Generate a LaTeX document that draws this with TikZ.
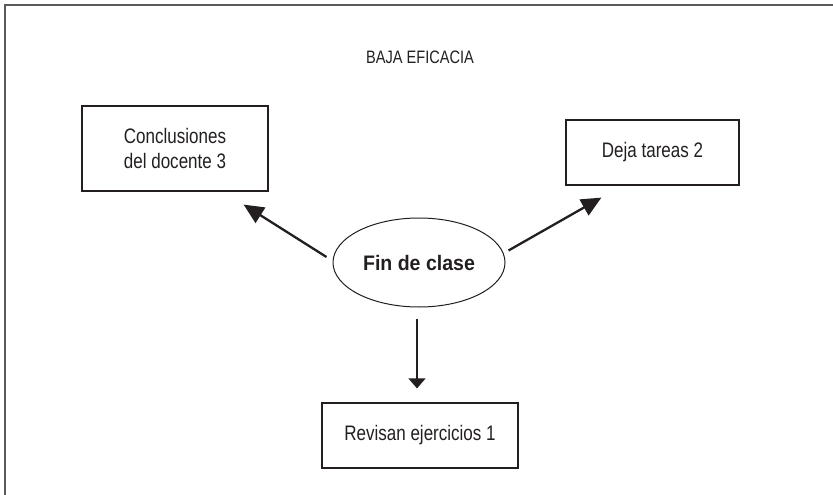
\documentclass[tikz,border=0pt]{standalone}
\usepackage{fontspec}
\setmainfont[FakeStretch=0.81]{Liberation Sans}
\newfontfamily\finfont[FakeStretch=0.93]{Liberation Sans}
\usetikzlibrary{shapes.geometric, arrows.meta, positioning, calc}
\definecolor{ink}{RGB}{35,31,32}
\definecolor{marco}{RGB}{90,90,90}

\begin{document}
\begin{tikzpicture}[x=1pt, y=-1pt, text=ink,
    caja/.style={rectangle, draw=ink, line width=1.2pt, inner sep=0pt, align=center,
                 font=\fontsize{21}{25}\selectfont},
    flecha/.style={draw=ink, line width=2.3pt, -{Triangle[length=20pt,width=18pt]}},
    flechafina/.style={draw=ink, line width=1.2pt, -{Triangle[length=10pt,width=17pt]}}]
    % Marco de la figura (solo lados izquierdo y superior)
    \useasboundingbox (0,0) rectangle (833,495);
    \draw[marco, line width=2pt] (4.5,495) -- (4.5,5.5) -- (833,5.5);

    % Titulo
    \node[font=\fontsize{18}{20}\selectfont] (titulo) at (420,57) {BAJA EFICACIA};

    % Cajas de actividades
    \node[caja, minimum width=186pt, minimum height=85pt] (concl) at (175,148.5) {Conclusiones\\del docente 3};
    \node[caja, minimum width=173pt, minimum height=65pt] (deja) at (652.5,152.5) {Deja tareas 2};
    \node[caja, minimum width=196pt, minimum height=65pt] (revisan) at (420,435.5) {Revisan ejercicios 1};

    % Elipse central
    \node[ellipse, draw=ink, line width=1pt, minimum width=172pt, minimum height=89pt,
          font=\fontsize{21}{25}\selectfont] (fin) at (419,262.5) {\finfont\bfseries Fin de clase};

    % Flechas desde la elipse
    \draw[flecha] ($(fin.west)+(-6,-5.5)$) -- ($(concl.south east)+(-25,13)$);
    \draw[flecha] ($(fin.east)+(3,-12)$) -- ($(deja.south west)+(36,12)$);
    \draw[flechafina] ($(fin.south)+(-2,11)$) -- ($(revisan.north)+(-3,-14)$);
\end{tikzpicture}
\end{document}
